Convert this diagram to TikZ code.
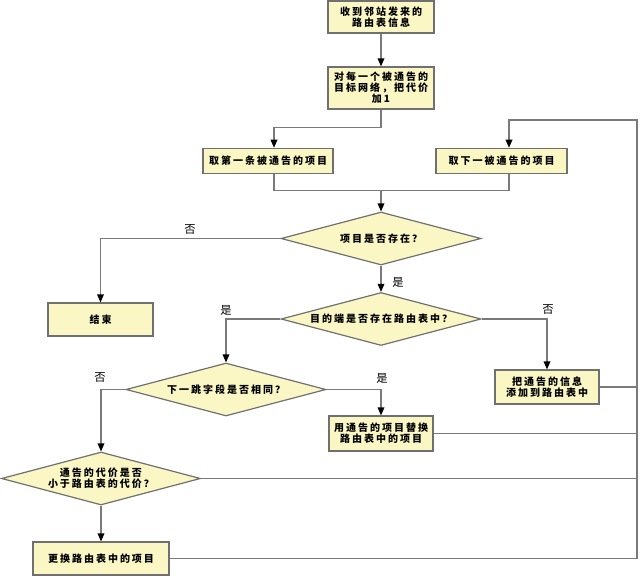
\documentclass[tikz,border=0pt]{standalone}
\usepackage{fontspec}
\setmainfont{Noto Sans CJK SC}
\newfontfamily\boxfont{Noto Sans CJK SC}[LetterSpace=20]
\usetikzlibrary{shapes.geometric,arrows.meta,calc}
\definecolor{boxfill}{HTML}{FAF7C4}
\definecolor{boxline}{HTML}{707070}
\definecolor{conn}{HTML}{7A7A7A}
\begin{document}
\begin{tikzpicture}[x=0.75pt,y=-0.75pt,
  proc/.style={draw=boxline,fill=boxfill,line width=0.9pt,inner sep=0pt,align=center,
    font=\boxfont\bfseries\fontsize{7.5}{8.3}\selectfont},
  dec/.style={diamond,draw=boxline,fill=boxfill,line width=0.9pt,inner sep=0pt,
    shape aspect=3.77,minimum width=150pt,minimum height=39.75pt,align=center,
    font=\boxfont\bfseries\fontsize{7.5}{8.3}\selectfont},
  conline/.style={draw=conn,line width=0.9pt},
  arr/.style={conline,-{Triangle[length=6pt,width=5pt,color=black]}},
  lab/.style={font=\fontsize{8.5}{10}\selectfont,inner sep=0pt}]
\fill[white] (0,0) rectangle (640,576);
\useasboundingbox (0,0) rectangle (640,576);

% nodes
\node[proc,minimum width=79.5pt,minimum height=24pt] (b1) at (381,17) {收到邻站发来的\\路由表信息};
\node[proc,minimum width=79.5pt,minimum height=31.5pt] (b2) at (381,88) {对每一个被通告的\\目标网络，把代价\\加1};
\node[proc,minimum width=97.5pt,minimum height=19pt] (b3) at (268,161) {取第一条被通告的项目};
\node[proc,minimum width=98.25pt,minimum height=19pt] (b4) at (501.5,161) {取下一被通告的项目};
\node[dec] (d1) at (381,238.5) {项目是否存在？};
\node[dec] (d2) at (381,319) {目的端是否存在路由表中？};
\node[proc,minimum width=78.75pt,minimum height=24.75pt] (bend) at (100.5,319.5) {结束};
\node[dec] (d3) at (226,389.5) {下一跳字段是否相同？};
\node[proc,minimum width=78pt,minimum height=25.5pt] (badd) at (547,387) {把通告的信息\\添加到路由表中};
\node[proc,minimum width=78pt,minimum height=26.25pt] (brep) at (381,433.5) {用通告的项目替换\\路由表中的项目};
\node[dec,minimum width=149.25pt] (d4) at (101,478.5) {通告的代价是否\\小于路由表的代价？};
\node[proc,minimum width=102pt,minimum height=24.75pt] (bchg) at (101,558.5) {更换路由表中的项目};

% helper coordinates
\coordinate (c3) at (274,0);
\coordinate (c4) at (509,0);
\coordinate (m) at (381,190);
\coordinate (bus) at (637,0);
\coordinate (top) at (637,120);

% connectors
\draw[arr] (b1) -- (b2);
\draw[arr] (b2.south) -- ++(0,18) -| (b3.north -| c3);
\draw[conline] (b3.south -| c3) -- ++(0,16) -| (b4.south -| c4);
\draw[arr] (m) -- (d1.north);
\draw[arr] (d1.west) -| (bend.north);
\draw[arr] (d1.south) -- (d2.north);
\draw[arr] (d2.west) -| (d3.north);
\draw[arr] (d2.east) -| (badd.north);
\draw[arr] (d3.west) -| (d4.north);
\draw[arr] (d3.east) -| (brep.north);
\draw[arr] (d4.south) -- (bchg.north);
\draw[conline] (badd.east) -- (badd.east -| bus);
\draw[conline] (brep.east) -- (brep.east -| bus);
\draw[conline] (d4.east) -- (d4.east -| bus);
\draw[arr] (bchg.east) -| (top) -| (b4.north -| c4);

% labels
\node[lab] (l1) at (190,230) {否};
\node[lab] (l2) at (398,282) {是};
\node[lab] (l3) at (226,310) {是};
\node[lab] (l4) at (548,310) {否};
\node[lab] (l5) at (100,378) {否};
\node[lab] (l6) at (382,378) {是};
\end{tikzpicture}
\end{document}
